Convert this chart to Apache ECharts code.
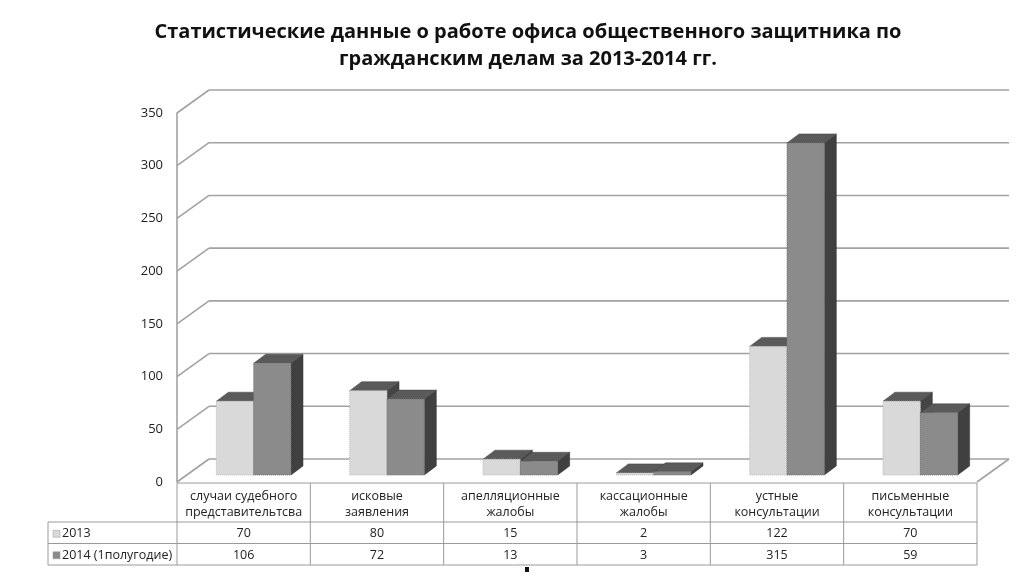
<!DOCTYPE html>
<html>
<head>
<meta charset="utf-8">
<script src="https://cdn.jsdelivr.net/npm/echarts@6/dist/echarts.min.js"></script>
<style>html,body{margin:0;padding:0;background:#fff}#c{width:1036px;height:577px}</style>
</head>
<body>
<div id="c"></div>
<script>
const titleText = 'Статистические данные о работе офиса общественного защитника по\nгражданским делам за 2013-2014 гг.';
const categories = ['случаи судебного представительтсва','исковые заявления','апелляционные жалобы','кассационные жалобы','устные консультации','письменные консультации'];
const seriesNames = ['2013','2014 (1полугодие)'];
const values2013 = [70, 80, 15, 2, 122, 70];
const values2014 = [106, 72, 13, 3, 315, 59];
const yTicks = [0, 50, 100, 150, 200, 250, 300, 350];

const FONT = '"Open Sans", "Noto Sans", sans-serif';
const WALL_DX = 32, WALL_DY = -23;   // depth of the back wall
const BAR_SX = 10, BAR_SY = -7;      // bar front plane offset
const BAR_DX = 12, BAR_DY = -9;      // bar depth
const GRID_COLOR = '#a2a2a2';
const TABLE_COLOR = '#9a9a9a';
const TEXT_COLOR = '#222';
const faceColors = [
  {front: '#d9d9d9', frontStroke: '#bdbdbd', top: '#5a5a5a', side: '#454545'},
  {front: '#8b8b8b', frontStroke: '#777777', top: '#5a5a5a', side: '#404040'}
];

function splitLabel(s) {
  const k = s.lastIndexOf(' ');
  return k > 0 ? s.slice(0, k) + '\n' + s.slice(k + 1) : s;
}

function wallItem(params, api) {
  const cs = params.coordSys;
  const v = api.value(1);
  const fy = api.coord([0, v])[1];
  const by = fy + WALL_DY;
  const st = {stroke: GRID_COLOR, lineWidth: 1.6};
  const children = [
    {type: 'line', shape: {x1: cs.x, y1: fy, x2: cs.x + WALL_DX, y2: by}, style: st},
    {type: 'line', shape: {x1: cs.x + WALL_DX, y1: by, x2: cs.x + cs.width + WALL_DX, y2: by}, style: st}
  ];
  if (v === 0) {
    children.push({type: 'line', shape: {x1: cs.x + cs.width, y1: fy, x2: cs.x + cs.width + WALL_DX, y2: by}, style: st});
  }
  return {type: 'group', children};
}

function barRenderer(si) {
  return function (params, api) {
    const i = api.value(0), v = api.value(1);
    const c = api.coord([i, v]);
    const b = api.coord([i, 0]);
    const bw = api.size([1, 0])[0] * 0.28;
    const cx = c[0] + BAR_SX;
    const x0 = si === 0 ? cx - bw : cx;
    const x1 = x0 + bw;
    const yt = c[1] + BAR_SY;
    const yb = b[1] + BAR_SY;
    const col = faceColors[si];
    return {
      type: 'group',
      children: [
        {type: 'polygon', shape: {points: [[x1, yt], [x1 + BAR_DX, yt + BAR_DY], [x1 + BAR_DX, yb + BAR_DY], [x1, yb]]}, style: {fill: col.side, stroke: '#333', lineWidth: 0.5}},
        {type: 'polygon', shape: {points: [[x0, yt], [x1, yt], [x1 + BAR_DX, yt + BAR_DY], [x0 + BAR_DX, yt + BAR_DY]]}, style: {fill: col.top, stroke: '#444', lineWidth: 0.5}},
        {type: 'rect', shape: {x: x0, y: yt, width: bw, height: Math.max(yb - yt, 0.5)}, style: {fill: col.front, stroke: col.frontStroke, lineWidth: 1, lineDash: [1, 1]}}
      ]
    };
  };
}

function tableItem(params, api) {
  const cs = params.coordSys;
  const i = api.value(0);
  const n = categories.length;
  const band = cs.width / n;
  const x0 = cs.x + i * band;
  const top = cs.y + cs.height + 1;
  const hH = 39, rH = 21.5;
  const r1 = top + hH, r2 = r1 + rH, r3 = r2 + rH;
  const ln = (x1, y1, x2, y2) => ({type: 'line', shape: {x1, y1, x2, y2}, style: {stroke: TABLE_COLOR, lineWidth: 1}});
  const txt = (t, x, y) => ({type: 'text', style: {text: t, x, y, align: 'center', verticalAlign: 'middle', fontFamily: FONT, fontSize: 12.5, lineHeight: 15.5, fill: TEXT_COLOR}});
  const children = [
    ln(x0 + band, top, x0 + band, r3),
    txt(splitLabel(categories[i]), x0 + band / 2, top + hH / 2 + 2),
    txt(String(values2013[i]), x0 + band / 2, r1 + rH / 2 + 1),
    txt(String(values2014[i]), x0 + band / 2, r2 + rH / 2 + 1)
  ];
  if (i === 0) {
    const lx = 48;
    children.push(
      ln(cs.x, top, cs.x + cs.width, top),
      ln(cs.x, top, cs.x, r3),
      ln(lx, r1, cs.x + cs.width, r1),
      ln(lx, r2, cs.x + cs.width, r2),
      ln(lx, r3, cs.x + cs.width, r3),
      ln(lx, r1, lx, r3)
    );
    const rows = [r1, r2];
    seriesNames.forEach((name, k) => {
      const yc = rows[k] + rH / 2 + 1;
      children.push(
        {type: 'rect', shape: {x: lx + 5, y: yc - 3.5, width: 7, height: 7}, style: {fill: faceColors[k].front, stroke: '#999', lineWidth: 0.5}},
        {type: 'text', style: {text: name, x: lx + 14, y: yc, align: 'left', verticalAlign: 'middle', fontFamily: FONT, fontSize: 12.5, fill: TEXT_COLOR}}
      );
    });
  }
  return {type: 'group', children};
}

const chart = echarts.init(document.getElementById('c'), null, {renderer: 'canvas'});
chart.setOption({
  animation: false,
  backgroundColor: '#fff',
  graphic: [
    {type: 'text', x: 528, y: 19, style: {text: titleText, align: 'center', fontFamily: FONT, fontWeight: 'bold', fontSize: 20, lineHeight: 27, fill: '#111'}},
    {type: 'rect', shape: {x: 525, y: 567, width: 4, height: 5}, style: {fill: '#111'}}
  ],
  grid: {left: 177, right: 59, top: 113, bottom: 95},
  xAxis: {
    type: 'category', data: categories,
    axisLine: {show: false}, axisTick: {show: false}, axisLabel: {show: false}, splitLine: {show: false}
  },
  yAxis: {
    type: 'value', min: 0, max: 350, interval: 50,
    axisLine: {show: true, lineStyle: {color: GRID_COLOR, width: 1.6}},
    axisTick: {show: false},
    splitLine: {show: false},
    axisLabel: {margin: 14, color: TEXT_COLOR, fontFamily: FONT, fontSize: 13}
  },
  series: [
    {type: 'custom', name: 'wall', data: yTicks.map(v => [0, v]), renderItem: wallItem, z: 1, silent: true},
    {type: 'custom', name: seriesNames[0], data: values2013.map((v, i) => [i, v]), renderItem: barRenderer(0), z: 2},
    {type: 'custom', name: seriesNames[1], data: values2014.map((v, i) => [i, v]), renderItem: barRenderer(1), z: 2},
    {type: 'custom', name: 'table', data: categories.map((c, i) => [i, 0]), renderItem: tableItem, z: 3, silent: true}
  ]
});
</script>
</body>
</html>
